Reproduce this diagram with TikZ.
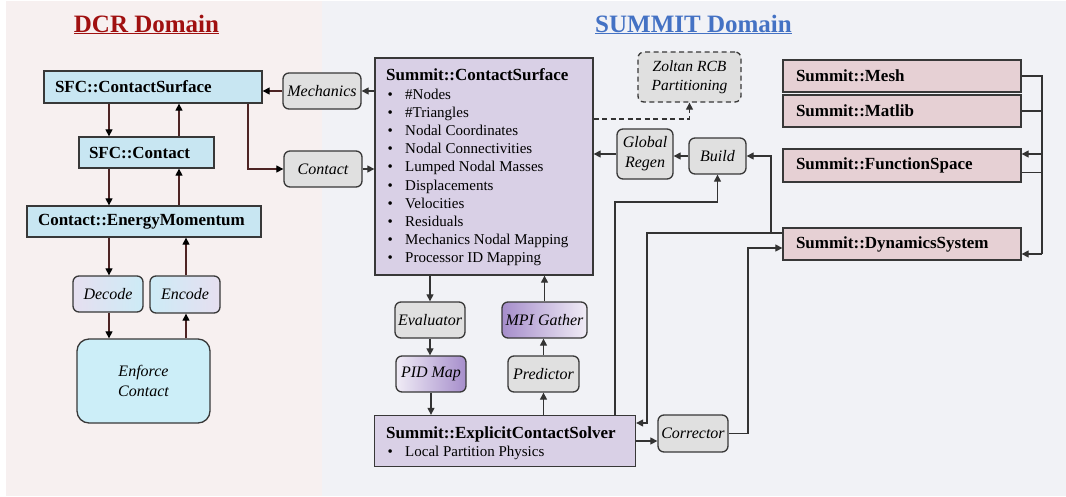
\documentclass[tikz,border=0pt]{standalone}
\usepackage{fontspec}
\setmainfont{Liberation Serif}
\usetikzlibrary{arrows.meta}
\definecolor{leftbg}{HTML}{F7F0F0}
\definecolor{rightbg}{HTML}{F1F2F6}
\definecolor{dcrred}{HTML}{A01010}
\definecolor{summitblue}{HTML}{4472C4}
\definecolor{sfcfill}{HTML}{C8E6F2}
\definecolor{enffill}{HTML}{CCEEF8}
\definecolor{grayfill}{HTML}{E0E0E0}
\definecolor{lavfill}{HTML}{D9D0E6}
\definecolor{pinkfill}{HTML}{E6D0D4}
\definecolor{bordc}{HTML}{383838}
\definecolor{linec}{HTML}{333333}
\definecolor{redline}{HTML}{4E2424}
\definecolor{lavlight}{HTML}{E6DFF0}
\definecolor{bluelight}{HTML}{CDEBF6}
\definecolor{purpdark}{HTML}{A68ECB}
\definecolor{purplight}{HTML}{F0ECF6}
\newcommand\bitem[1]{\makebox[19pt][l]{\hspace{1.5pt}\textbullet}#1}
\tikzset{
  sqbox/.style={draw=bordc, line width=1.3pt, inner xsep=11pt, inner ysep=0pt, align=left,
    font=\bfseries\fontsize{17}{20}\selectfont},
  sfcbox/.style={sqbox, fill=sfcfill},
  pinkbox/.style={sqbox, fill=pinkfill, inner xsep=13pt},
  lavbox/.style={draw=bordc, line width=1.3pt, fill=lavfill},
  gbox/.style={draw=bordc, line width=1.3pt, rounded corners=6pt, fill=grayfill, align=center,
    inner sep=0pt, font=\itshape\fontsize{16}{20}\selectfont},
  dashstyle/.style={dash pattern=on 5pt off 3.5pt},
  arr/.style={draw=linec, line width=1.2pt, -{Triangle[length=7pt,width=7pt]}},
  arrL/.style={draw=redline, line width=1.2pt, -{Triangle[length=7pt,width=7pt,color=black]}},
  plain/.style={draw=linec, line width=1.2pt},
  listtext/.style={anchor=north west, inner sep=0pt, align=left, font=\fontsize{15}{18.2}\selectfont},
  domtitle/.style={anchor=base, inner sep=0pt, font=\bfseries\fontsize{25}{28}\selectfont}
}
\begin{document}
\begin{tikzpicture}[x=1pt,y=-1pt]
\useasboundingbox (0,0) rectangle (1066,496);
\fill[leftbg] (6,1) rectangle (322,496);
\fill[rightbg] (322,1) rectangle (1066,496);

% titles
\node[domtitle, text=dcrred] (dcrtitle) at (146.5,32) {\underline{DCR Domain}};
\node[domtitle, text=summitblue] (summittitle) at (693.5,32) {\underline{SUMMIT Domain}};

% DCR domain nodes
\node[sfcbox, minimum width=218pt, minimum height=32pt, text width=196pt] (sfccs) at (153,87) {SFC::ContactSurface};
\node[sfcbox, minimum width=135pt, minimum height=31pt, text width=115pt, inner xsep=10pt] (sfc) at (146.5,152.5) {SFC::Contact};
\node[sfcbox, minimum width=234pt, minimum height=31pt, text width=212pt] (em) at (144,221.5) {Contact::EnergyMomentum};
\node[gbox, left color=lavlight, right color=bluelight, minimum width=70pt, minimum height=36pt] (dec) at (108,294) {Decode};
\node[gbox, left color=bluelight, right color=lavlight, minimum width=70pt, minimum height=37pt] (enc) at (185,294.5) {Encode};
\node[gbox, fill=enffill, rounded corners=12pt, minimum width=133pt, minimum height=84pt] (enf) at (143.5,381) {Enforce\\Contact};

\node[gbox, minimum width=78pt, minimum height=36pt] (mech) at (322,91) {Mechanics};
\node[gbox, minimum width=78pt, minimum height=36pt] (contact) at (323,169) {Contact};

% SUMMIT contact surface
\node[lavbox, minimum width=218pt, minimum height=217pt] (cs) at (484,166.5) {};
\node[listtext] (cstext) at (386,68.7) {{\bfseries\fontsize{17}{18.2}\selectfont Summit::ContactSurface}\\
\bitem{\#Nodes}\\
\bitem{\#Triangles}\\
\bitem{Nodal Coordinates}\\
\bitem{Nodal Connectivities}\\
\bitem{Lumped Nodal Masses}\\
\bitem{Displacements}\\
\bitem{Velocities}\\
\bitem{Residuals}\\
\bitem{Mechanics Nodal Mapping}\\
\bitem{Processor ID Mapping}};

\node[gbox, dashstyle, minimum width=103pt, minimum height=50pt, font=\itshape\fontsize{15.5}{19}\selectfont] (zoltan) at (689.5,77) {Zoltan RCB\\Partitioning};
\node[gbox, minimum width=56pt, minimum height=50pt] (gr) at (645,154) {Global\\Regen};
\node[gbox, minimum width=57pt, minimum height=36pt] (build) at (717.5,156) {Build};

\node[gbox, minimum width=70pt, minimum height=36pt] (ev) at (430,320) {Evaluator};
\node[gbox, left color=purplight, right color=purpdark, minimum width=70pt, minimum height=36pt] (pid) at (431,374) {PID Map};
\node[gbox, left color=purpdark, right color=purplight, minimum width=85pt, minimum height=36pt] (mpi) at (544.5,320) {MPI Gather};
\node[gbox, minimum width=71pt, minimum height=36pt] (pred) at (543.5,374) {Predictor};

\node[lavbox, minimum width=261pt, minimum height=51pt] (ecs) at (505,441) {};
\node[listtext] (ecstext) at (386,426.7) {{\bfseries\fontsize{17}{18.2}\selectfont Summit::ExplicitContactSolver}\\
\bitem{Local Partition Physics}};
\node[gbox, minimum width=70pt, minimum height=37pt] (corr) at (693,433.5) {Corrector};

\node[pinkbox, minimum width=238pt, minimum height=32pt, text width=212pt] (mesh) at (902,76) {Summit::Mesh};
\node[pinkbox, minimum width=238pt, minimum height=32pt, text width=212pt] (matlib) at (902,111) {Summit::Matlib};
\node[pinkbox, minimum width=238pt, minimum height=33pt, text width=212pt] (fs) at (902,165.5) {Summit::FunctionSpace};
\node[pinkbox, minimum width=238pt, minimum height=32pt, text width=212pt] (ds) at (902,244) {Summit::DynamicsSystem};

% coordinates
\coordinate (dx) at (109,0);
\coordinate (ux) at (179,0);
\coordinate (ux2) at (186,0);
\coordinate (cx) at (248,0);
\coordinate (zy) at (0,119);
\coordinate (j1) at (615,202);
\coordinate (j2) at (647,233);
\coordinate (j3) at (771,233);
\coordinate (j4) at (748,248);
\coordinate (busT) at (1042,76);
\coordinate (busB) at (1042,254);

% DCR arrows
\draw[arrL] (sfccs.south -| dx) -- (sfc.north -| dx);
\draw[arrL] (sfc.north -| ux) -- (sfccs.south -| ux);
\draw[arrL] (sfc.south -| dx) -- (em.north -| dx);
\draw[arrL] (em.north -| ux) -- (sfc.south -| ux);
\draw[arrL] (em.south -| dx) -- (dec.north -| dx);
\draw[arrL] (enc.north -| ux2) -- (em.south -| ux2);
\draw[arrL] (dec.south -| dx) -- (enf.north -| dx);
\draw[arrL] (enf.north -| ux2) -- (enc.south -| ux2);

% interface arrows
\draw[arr] (cs.west |- mech.east) -- (mech.east);
\draw[arrL] (mech.west) -- (mech.west -| sfccs.east);
\draw[arrL] (sfccs.south -| cx) |- (contact.west);
\draw[arr] (contact.east) -- (contact.east -| cs.west);

% summit arrows
\draw[arr, dashstyle] (cs.east |- zy) -| (zoltan.south);
\draw[arr] (gr.west) -- (gr.west -| cs.east);
\draw[arr] (build.west) -- (build.west -| gr.east);
\draw[arr] (cs.south -| ev.north) -- (ev.north);
\draw[arr] (ev.south) -- (ev.south |- pid.north);
\draw[arr] (pid.south) -- (pid.south |- ecs.north);
\draw[arr] (mpi.north) -- (mpi.north |- cs.south);
\draw[arr] (pred.north) -- (pred.north |- mpi.south);
\draw[arr] (ecs.north -| pred.south) -- (pred.south);
\draw[arr] (ecs.east) -- (ecs.east -| corr.west);
\draw[arr] (ecs.north -| j1) -- (j1) -| (build.south);
\draw[arr] ([yshift=11pt]ds.west) -- (j2) |- ([yshift=18pt]ecs.east);
\draw[arr] (j3) |- (build.east);
\draw[arr] (corr.east) -| (j4) -- (j4 -| ds.west);

% right bus
\draw[plain] (mesh.east) -- (busT) -- (busB);
\draw[plain] (matlib.east) -- (matlib.east -| busT);
\draw[arr] (busT |- 0,154) -- (fs.east |- 0,154);
\draw[plain] ([yshift=-7pt]fs.east) -- ([yshift=-7pt]fs.east -| busT);
\draw[arr] (busB) -- (busB -| ds.east);
\end{tikzpicture}
\end{document}
